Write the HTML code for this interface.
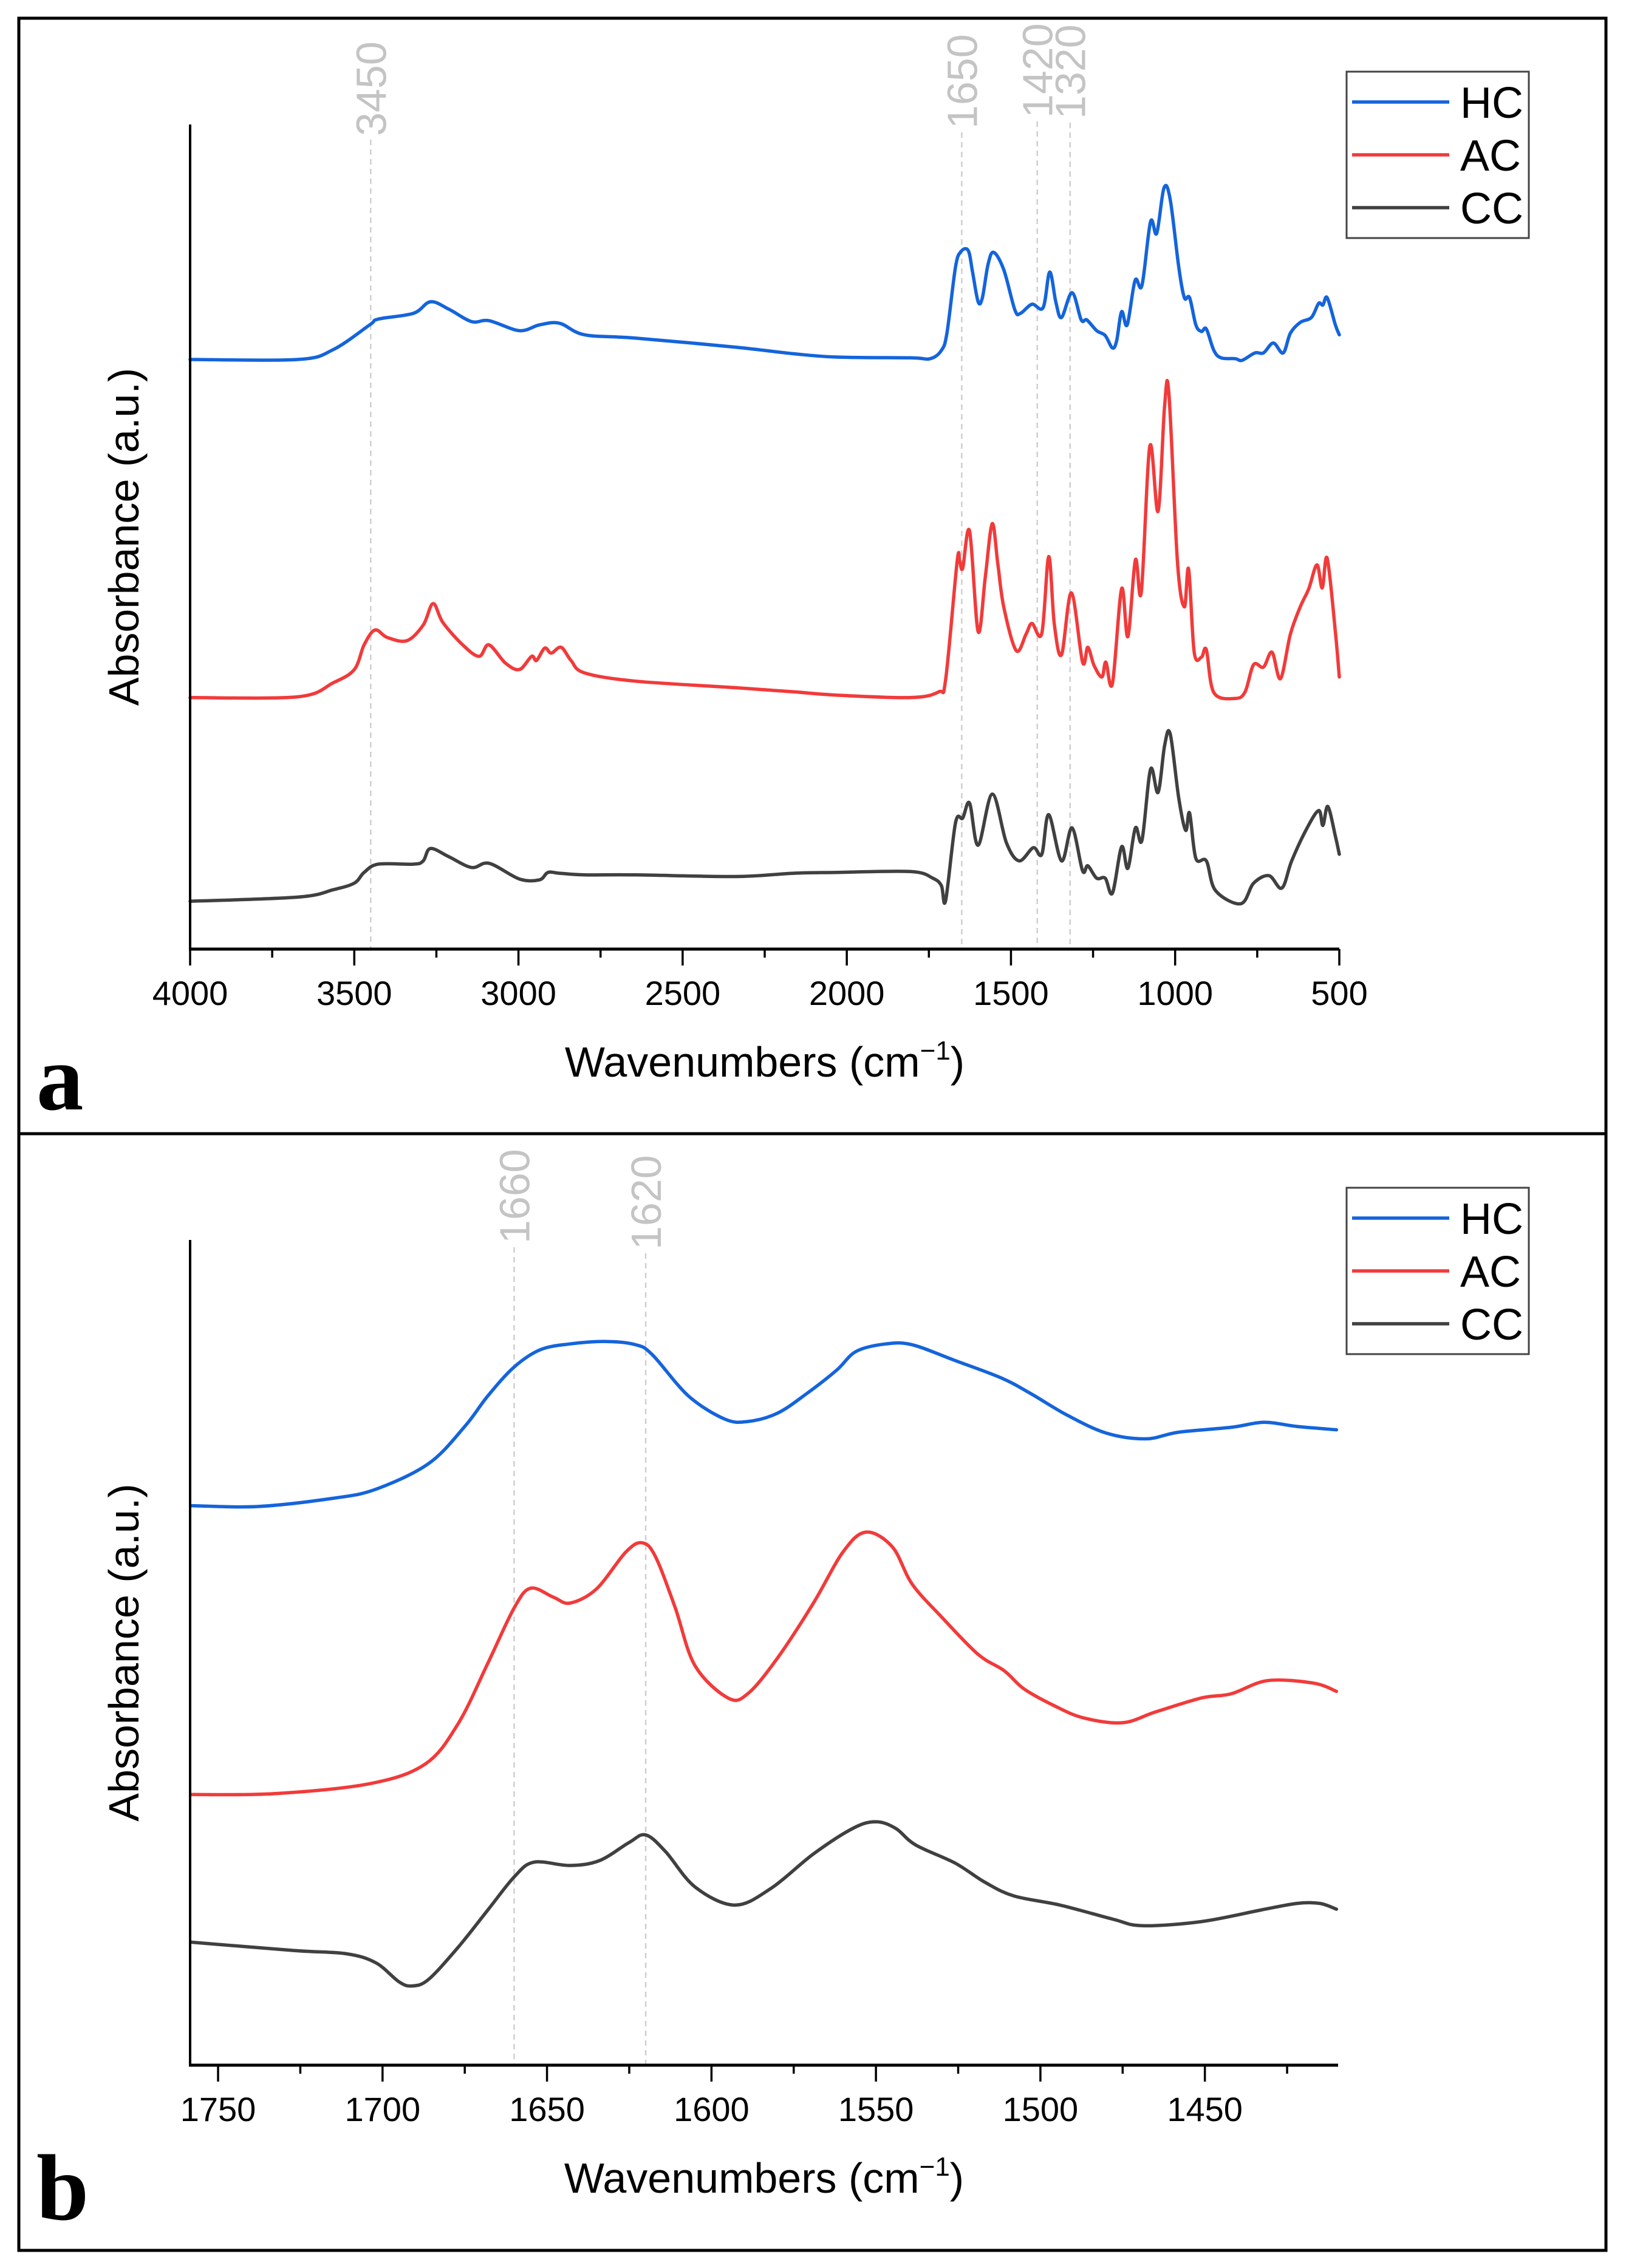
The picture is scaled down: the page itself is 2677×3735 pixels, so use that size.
<!DOCTYPE html>
<html><head><meta charset="utf-8"><style>
html,body{margin:0;padding:0;background:#fff;}
svg{display:block;}
text{font-family:"Liberation Sans",Arial,sans-serif;}
</style></head><body>
<svg id="fig" width="2677" height="3735" viewBox="0 0 2677 3735" xmlns="http://www.w3.org/2000/svg">
<rect x="0" y="0" width="2677" height="3735" fill="#fff"/>
<rect x="31" y="30" width="2613" height="3676" fill="none" stroke="#000" stroke-width="5"/>
<line x1="31" y1="1867" x2="2644" y2="1867" stroke="#000" stroke-width="5"/>
<g id="panelA"></g>
<g id="panelB"></g>
</svg>
<script>
// ---------- Panel a data ----------
const aTicks = [4000,3500,3000,2500,2000,1500,1000,500];
const aMinor = [3750,3250,2750,2250,1750,1250,750];
const aMarkers = [3450,1650,1420,1320];
const aHCw = [4000,3672,3564,3453,3427,3320,3268,3212,3143,3089,2997,2936,2875,2799,2645,2339,2163,2032,1806,1746,1712,1695,1669,1652,1630,1617,1600,1587,1570,1553,1522,1488,1471,1436,1402,1382,1363,1346,1314,1286,1269,1239,1213,1191,1178,1163,1146,1122,1101,1075,1056,1034,1015,989,972,956,937,920,905,882,860,817,796,757,731,701,671,649,619,585,563,550,537,512,500];
const aHCv = [71.5,71.5,72.7,75.7,76.4,77.1,78.5,77.6,76.1,76.2,75.0,75.7,75.9,74.5,74.1,73.0,72.2,71.8,71.7,71.6,72.6,74.7,82.7,84.6,84.7,82.1,78.5,79.0,83.0,84.5,82.4,77.5,77.1,78.2,77.8,82.1,78.4,76.6,79.6,76.3,76.3,75.0,74.4,72.9,73.8,77.3,75.7,81.1,80.5,88.2,86.8,92.3,90.9,82.7,79.0,79.0,75.7,74.9,75.2,72.6,71.7,71.6,71.4,72.3,72.3,73.5,72.3,74.7,76.0,76.6,78.3,78.1,79.0,75.7,74.5];
const aACw = [4000,3672,3564,3500,3470,3437,3400,3340,3290,3260,3230,3170,3120,3090,3040,2997,2960,2945,2920,2900,2870,2840,2799,2645,2339,2163,2032,1806,1720,1699,1664,1656,1647,1626,1600,1578,1557,1540,1522,1484,1454,1436,1406,1385,1368,1346,1316,1282,1266,1247,1223,1211,1191,1163,1144,1121,1103,1077,1052,1032,1019,993,972,959,942,920,905,882,817,787,761,731,705,679,649,619,593,568,552,537,512,500];
const aACv = [30.5,30.6,32.3,33.9,36.9,38.7,37.8,37.4,39.3,41.9,39.6,36.9,35.5,36.9,34.7,33.9,35.5,35.0,36.5,35.9,36.6,35.0,33.5,32.5,31.7,31.2,30.8,30.5,31.2,32.7,47.0,47.0,46.2,50.7,38.5,45.2,51.6,46.7,41.5,36.2,38.2,39.5,38.3,47.6,39.4,35.7,43.2,34.8,36.6,34.4,33.0,34.8,32.2,43.7,37.9,47.2,43.3,61.0,53.1,65.9,67.4,47.0,41.5,46.1,36.0,35.4,36.3,31.1,30.4,31.2,34.5,34.2,36.0,32.8,38.2,41.5,43.7,46.6,43.8,47.4,38.5,33.0];
const aCCw = [4000,3672,3564,3500,3470,3427,3320,3290,3268,3212,3143,3089,2997,2936,2910,2875,2799,2645,2339,2163,2032,1806,1738,1712,1699,1669,1647,1626,1600,1557,1514,1475,1432,1406,1385,1346,1314,1282,1266,1239,1213,1191,1163,1144,1121,1101,1075,1052,1032,1015,989,968,956,937,905,877,800,761,714,675,645,602,563,550,535,512,500];
const aCCv = [5.8,6.3,7.2,8.0,9.3,10.3,10.3,10.7,12.2,11.2,9.9,10.4,8.5,8.4,9.3,9.2,9.0,9.0,8.8,9.2,9.3,9.4,8.6,7.7,5.9,15.3,15.9,17.7,12.6,18.8,12.9,10.7,12.3,11.5,16.3,10.7,14.7,9.5,10.1,8.6,8.6,6.8,12.4,9.8,14.7,13.2,21.8,19.0,24.7,26.1,18.3,14.4,16.5,11.0,10.7,7.1,5.5,8.0,8.9,7.4,10.7,14.4,16.8,15.0,17.3,13.7,11.5];

// ---------- Panel b data ----------
const bTicks = [1750,1700,1650,1600,1550,1500,1450];
const bMinor = [1725,1675,1625,1575,1525,1475,1425];
const bMarkers = [1660,1620];
const bHCw = [1758,1738,1715,1702,1686,1675,1668,1660,1652,1643,1632,1623,1618,1607,1596,1589,1580,1571,1562,1556,1547,1539,1526,1512,1503,1492,1480,1468,1458,1442,1432,1422,1410];
const bHCv = [67.8,67.7,68.7,69.8,72.9,77.4,81.1,84.6,86.7,87.4,87.7,87.3,86.1,81.1,78.3,78.0,79.0,81.4,84.2,86.5,87.4,87.3,85.4,83.3,81.4,78.8,76.6,75.9,76.7,77.3,77.9,77.4,77.0];
const bACw = [1758,1733,1704,1687,1677,1668,1660,1655,1648,1643,1635,1626,1621,1617,1611,1605,1595,1589,1580,1569,1560,1553,1545,1539,1530,1519,1511,1505,1496,1487,1475,1465,1451,1442,1431,1417,1410];
const bACv = [32.8,32.9,34.1,36.5,41.4,48.7,55.4,57.8,56.7,56.0,57.7,62.2,63.3,61.6,55.4,48.4,44.5,45.0,49.3,56.0,62.2,64.6,62.8,58.3,54.3,49.8,47.8,45.6,43.6,42.1,41.5,42.8,44.5,45.0,46.6,46.3,45.3];
const bCCw = [1758,1727,1711,1702,1695,1691,1686,1677,1668,1660,1654,1643,1634,1625,1620,1614,1605,1593,1582,1569,1557,1550,1544,1538,1526,1517,1508,1494,1478,1469,1451,1433,1422,1415,1410];
const bCCv = [14.9,13.9,13.5,12.4,10.1,9.6,10.4,14.3,18.8,22.8,24.6,24.2,24.8,27.0,27.9,25.9,21.6,19.4,21.4,25.6,28.7,29.5,28.7,26.7,24.5,22.2,20.5,19.4,17.7,16.9,17.4,18.8,19.6,19.6,18.9];

const seriesNames = ["HC","AC","CC"];
const seriesColors = ["#1464dc","#f23a3a","#404040"];
const NS = "http://www.w3.org/2000/svg";

function mk(tag, attrs, parent){
  const e = document.createElementNS(NS, tag);
  for (const k in attrs) e.setAttribute(k, attrs[k]);
  parent.appendChild(e);
  return e;
}

function smoothPath(pts){
  let d = "M" + pts[0][0].toFixed(1) + "," + pts[0][1].toFixed(1);
  for (let i = 0; i < pts.length - 1; i++){
    const p0 = pts[Math.max(0, i - 1)], p1 = pts[i], p2 = pts[i + 1], p3 = pts[Math.min(pts.length - 1, i + 2)];
    const c1x = p1[0] + (p2[0] - p0[0]) / 6, c1y = p1[1] + (p2[1] - p0[1]) / 6;
    const c2x = p2[0] - (p3[0] - p1[0]) / 6, c2y = p2[1] - (p3[1] - p1[1]) / 6;
    d += "C" + c1x.toFixed(1) + "," + c1y.toFixed(1) + " " + c2x.toFixed(1) + "," + c2y.toFixed(1) + " " + p2[0].toFixed(1) + "," + p2[1].toFixed(1);
  }
  return d;
}

function drawPanel(g, cfg){
  const L = 313, R = cfg.right, T = cfg.top, B = cfg.bottom;
  const x = w => L + (cfg.wMax - w) / (cfg.wMax - cfg.wMin) * (R - L);
  const y = v => B - v / 100 * (B - T);
  cfg.markers.forEach((m, i) => {
    const ln = mk("line", {x1:x(m), x2:x(m), y1:cfg.markTop[i], y2:B, stroke:"#cfcfcf", "stroke-width":2.5, "stroke-dasharray":"9 7"}, g);
    
    
    const t = mk("text", {x:0, y:0, fill:"#c4c4c4", "font-size":70, transform:"translate(" + (x(m) + 25) + "," + (cfg.markTop[i] - 6) + ") rotate(-90)"}, g);
    t.textContent = m;
    
    
  });
  cfg.series.forEach((s, i) => {
    const pts = s.w.map((w, k) => [x(w), y(s.v[k])]);
    const p = mk("path", {d:smoothPath(pts), fill:"none", stroke:seriesColors[i], "stroke-width":5.5, "stroke-linejoin":"round", "stroke-linecap":"round"}, g);
    
    
  });
  const ya = mk("line", {x1:L, x2:L, y1:T, y2:B + 2, stroke:"#000", "stroke-width":4}, g);
  
  
  const xa = mk("line", {x1:L - 2, x2:R, y1:B, y2:B, stroke:"#000", "stroke-width":5}, g);
  
  
  cfg.ticks.forEach(t => {
    const tl = mk("line", {x1:x(t), x2:x(t), y1:B, y2:B + 27, stroke:"#000", "stroke-width":3.5}, g);
    
    
    const tx = mk("text", {x:x(t), y:B + 92, "text-anchor":"middle", "font-size":56, fill:"#000"}, g);
    tx.textContent = t;
    
    
  });
  cfg.minor.forEach(t => {
    const tl = mk("line", {x1:x(t), x2:x(t), y1:B, y2:B + 14, stroke:"#000", "stroke-width":3.5}, g);
    
    
  });
  const xt = mk("text", {x:(L + R) / 2, y:B + 210, "text-anchor":"middle", "font-size":70, fill:"#000"}, g);
  xt.innerHTML = 'Wavenumbers (cm<tspan dy="-28" font-size="44">−1</tspan><tspan dy="28">)</tspan>';
  
  
  const yt = mk("text", {x:0, y:0, "text-anchor":"middle", "font-size":70, fill:"#000", transform:"translate(228," + ((T + B) / 2) + ") rotate(-90)"}, g);
  yt.textContent = "Absorbance (a.u.)";
  
  
  const pl = mk("text", {x:60, y:cfg.letterY, "font-size":155, "font-weight":"bold", fill:"#000", style:"font-family:'Liberation Serif',serif"}, g);
  pl.textContent = cfg.letter;
  
  
  const lg = mk("g", {}, g);
  
  
  mk("rect", {x:2217, y:cfg.legTop, width:300, height:274, fill:"#fff", stroke:"#444", "stroke-width":3}, lg);
  seriesNames.forEach((n, i) => {
    const ly = cfg.legTop + 50 + i * 87;
    const e = mk("g", {}, lg);
    
    
    mk("line", {x1:2226, x2:2386, y1:ly, y2:ly, stroke:seriesColors[i], "stroke-width":5.5}, e);
    const t = mk("text", {x:2404, y:ly + 26, "font-size":72, fill:"#000"}, e);
    t.textContent = n;
  });
}

drawPanel(document.getElementById("panelA"), {
  wMax:4000, wMin:500, right:2205, top:205, bottom:1563,
  ticks:aTicks, minor:aMinor, markers:aMarkers, markTop:[230,218,200,202],
  series:[{w:aHCw,v:aHCv},{w:aACw,v:aACv},{w:aCCw,v:aCCv}],
  letter:"a", letterY:1827, legTop:118
});
drawPanel(document.getElementById("panelB"), {
  wMax:1758.5, wMin:1409.5, right:2203, top:2042, bottom:3401,
  ticks:bTicks, minor:bMinor, markers:bMarkers, markTop:[2054,2064],
  series:[{w:bHCw,v:bHCv},{w:bACw,v:bACv},{w:bCCw,v:bCCv}],
  letter:"b", letterY:3655, legTop:1956
});
</script>
</body></html>
